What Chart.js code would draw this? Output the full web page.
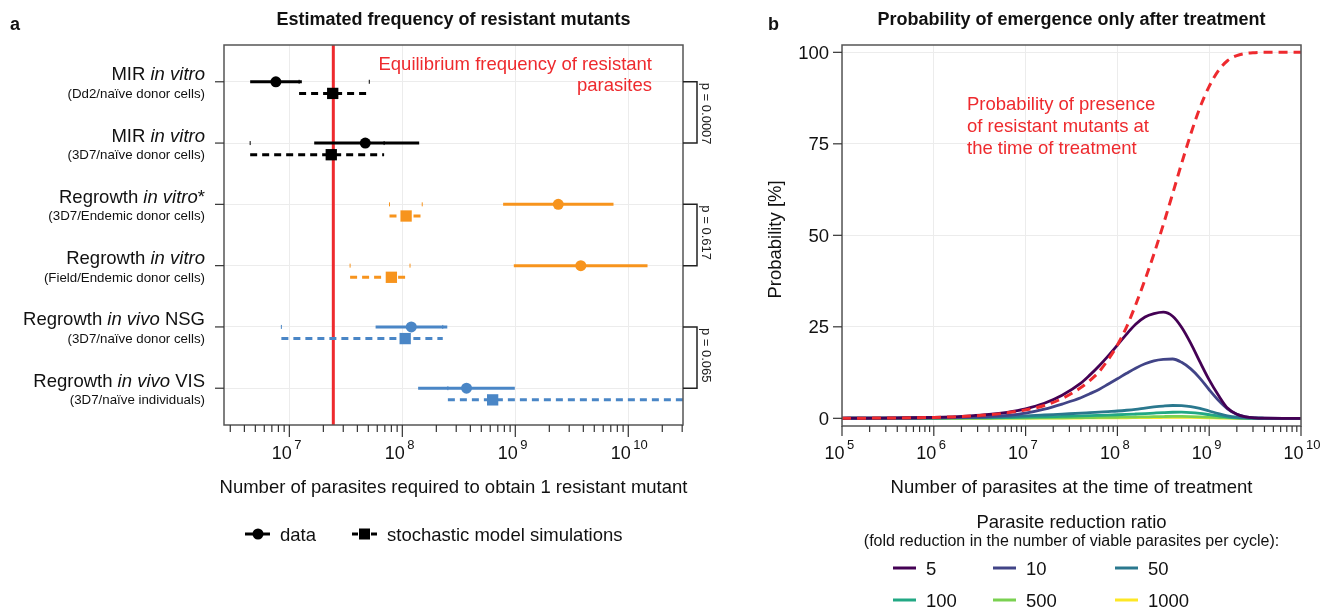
<!DOCTYPE html>
<html>
<head>
<meta charset="utf-8">
<script src="https://cdn.jsdelivr.net/npm/chart.js@4.4.1/dist/chart.umd.min.js"></script>
<style>
  html, body { margin: 0; padding: 0; background: #fff; }
  #wrap { position: relative; width: 1335px; height: 609px; overflow: hidden; }
  canvas { position: absolute; top: 0; }
  #chartA { left: 0; }
  #chartB { left: 760px; }
</style>
</head>
<body>
<div id="wrap">
  <canvas id="chartA" width="760" height="609"></canvas>
  <canvas id="chartB" width="575" height="609"></canvas>
</div>
<script>
const FONT = '"Liberation Sans", Arial, Helvetica, sans-serif';
const TXT = '18.5px ' + FONT;
const GRID = '#ececec';
const BOX = '#555555';
const INK = '#111111';
const RED = '#ee2a2e';

// ---- panel a : estimated frequency of resistant mutants ----
const rowTitles = [
  ['MIR ', 'in vitro', ''],
  ['MIR ', 'in vitro', ''],
  ['Regrowth ', 'in vitro', '*'],
  ['Regrowth ', 'in vitro', ''],
  ['Regrowth ', 'in vivo', ' NSG'],
  ['Regrowth ', 'in vivo', ' VIS']
];
const rowSubtitles = [
  '(Dd2/naïve donor cells)',
  '(3D7/naïve donor cells)',
  '(3D7/Endemic donor cells)',
  '(Field/Endemic donor cells)',
  '(3D7/naïve donor cells)',
  '(3D7/naïve individuals)'
];
const dataEstimate = [7.6e6, 4.7e7, 2.4e9, 3.8e9, 1.2e8, 3.7e8];
const dataLower    = [4.5e6, 1.66e7, 7.8e8, 9.7e8, 5.8e7, 1.38e8];
const dataUpper    = [1.29e7, 1.41e8, 7.4e9, 1.48e10, 2.5e8, 9.9e8];
const simEstimate  = [2.42e7, 2.35e7, 1.08e8, 8.0e7, 1.06e8, 6.3e8];
const simLower     = [1.22e7, 4.5e6, 7.7e7, 3.45e7, 8.5e6, 2.53e8];
const simUpper     = [5.1e7, 6.9e7, 1.5e8, 1.17e8, 2.28e8, 5e10];
const equilibriumFreq = 2.45e7;
const pValues = ['p = 0.0007', 'p = 0.617', 'p = 0.065'];
const pPairs = [[1, 2], [3, 4], [5, 6]];
const decadesA = [7, 8, 9, 10];

// colours per row (style only)
const rowColours = ['#000000', '#000000', '#f7941d', '#f7941d', '#4a86c6', '#4a86c6'];

// ---- panel b : probability of emergence only after treatment ----
const parasites = [1e5, 1.6e5, 2.5e5, 4e5, 6.3e5, 1e6, 1.6e6, 2.5e6, 4e6, 6.3e6,
  1e7, 1.6e7, 2.5e7, 4e7, 5e7, 6.3e7, 7.9e7,
  1e8, 1.26e8, 1.58e8, 2e8, 2.5e8, 3.16e8, 4e8, 5e8, 6.3e8, 7.9e8,
  1e9, 1.26e9, 1.58e9, 2e9, 2.5e9, 3.16e9, 4e9, 6.3e9, 1e10];
const presence = [0.02, 0.04, 0.06, 0.1, 0.15, 0.24, 0.38, 0.6, 0.95, 1.5,
  2.3, 3.5, 5.4, 8.4, 10.3, 12.7, 16.0,
  20.0, 25.0, 31.0, 37.9, 44.9, 52.9, 61.4, 69.6, 77.7, 84.8,
  90.7, 95.0, 97.7, 99.1, 99.7, 99.9, 100, 100, 100];
const emerge5 = [0.02, 0.04, 0.06, 0.1, 0.16, 0.26, 0.42, 0.66, 1.05, 1.65,
  2.6, 4.1, 6.3, 9.6, 11.8, 14.3, 17.0,
  20.0, 23.0, 25.7, 27.7, 28.6, 29.0, 27.9, 24.9, 20.5, 15.5,
  10.5, 6.3, 2.8, 1.1, 0.4, 0.12, 0.04, 0, 0];
const emerge10 = [0.01, 0.02, 0.03, 0.05, 0.08, 0.13, 0.2, 0.32, 0.5, 0.8,
  1.4, 2.5, 3.9, 5.6, 6.7, 7.9, 9.3,
  10.8, 12.3, 13.7, 14.9, 15.7, 16.1, 16.2, 15.3, 13.5, 11.0,
  7.8, 4.9, 2.6, 1.1, 0.4, 0.12, 0.03, 0, 0];
const emerge50 = [0.02, 0.03, 0.05, 0.07, 0.1, 0.13, 0.17, 0.23, 0.3, 0.45,
  0.65, 0.9, 1.15, 1.4, 1.55, 1.7, 1.85,
  2.0, 2.2, 2.45, 2.8, 3.1, 3.35, 3.5, 3.45, 3.2, 2.7,
  2.0, 1.3, 0.7, 0.3, 0.1, 0.03, 0.01, 0, 0];
const emerge100 = [0.01, 0.02, 0.03, 0.04, 0.05, 0.07, 0.09, 0.12, 0.16, 0.22,
  0.3, 0.4, 0.52, 0.65, 0.72, 0.8, 0.88,
  0.97, 1.07, 1.18, 1.3, 1.43, 1.56, 1.66, 1.68, 1.58, 1.35,
  1.0, 0.65, 0.35, 0.15, 0.05, 0.02, 0.01, 0, 0];
const emerge500 = [0, 0.01, 0.01, 0.01, 0.02, 0.02, 0.03, 0.04, 0.05, 0.07,
  0.09, 0.12, 0.15, 0.19, 0.21, 0.23, 0.26,
  0.29, 0.32, 0.36, 0.4, 0.44, 0.48, 0.51, 0.51, 0.48, 0.41,
  0.3, 0.19, 0.1, 0.04, 0.01, 0, 0, 0, 0];
const emerge1000 = [0, 0, 0, 0.01, 0.01, 0.01, 0.01, 0.02, 0.02, 0.03,
  0.04, 0.05, 0.07, 0.09, 0.1, 0.11, 0.12,
  0.14, 0.15, 0.17, 0.19, 0.21, 0.23, 0.25, 0.25, 0.23, 0.2,
  0.15, 0.09, 0.05, 0.02, 0.01, 0, 0, 0, 0];
const reductionRatios = ['5', '10', '50', '100', '500', '1000'];
const emergenceSeries = [emerge5, emerge10, emerge50, emerge100, emerge500, emerge1000];
const probTicks = [0, 25, 50, 75, 100];
const decadesB = [5, 6, 7, 8, 9, 10];

const viridis = ['#440154', '#414487', '#2a788e', '#22a884', '#7ad151', '#fde725'];

// ---------- helpers ----------
function isDecade(v) {
  const l = Math.log10(v);
  return Math.abs(l - Math.round(l)) < 1e-9;
}
function isNiceLogTick(v) {
  const m = v / Math.pow(10, Math.floor(Math.log10(v) + 1e-9));
  return Math.abs(m - Math.round(m)) < 1e-6;
}
function logTicks(scale) {
  const out = [];
  for (let e = Math.floor(Math.log10(scale.min)); e <= Math.ceil(Math.log10(scale.max)); e++) {
    for (let m = 1; m <= 9; m++) {
      const v = m * Math.pow(10, e);
      if (v >= scale.min * 0.9999 && v <= scale.max * 1.0001) out.push({ value: v });
    }
  }
  scale.ticks = out;
}
function seg(ctx, x1, y1, x2, y2) {
  ctx.beginPath(); ctx.moveTo(x1, y1); ctx.lineTo(x2, y2); ctx.stroke();
}
function drawPow(ctx, x, y, exp) {
  ctx.textAlign = 'left';
  ctx.textBaseline = 'alphabetic';
  ctx.font = '18px ' + FONT;
  ctx.fillText('10', x - 17.5, y);
  ctx.font = '13px ' + FONT;
  ctx.fillText(String(exp), x + 5, y - 10);
}
function drawRowTitle(ctx, parts, xRight, y) {
  const fonts = [TXT, 'italic ' + TXT, TXT];
  const widths = parts.map((p, i) => { ctx.font = fonts[i]; return ctx.measureText(p).width; });
  let x = xRight - widths.reduce((s, w) => s + w, 0);
  ctx.textAlign = 'left';
  parts.forEach((p, i) => { ctx.font = fonts[i]; ctx.fillText(p, x, y); x += widths[i]; });
}
function drawLogXAxis(ctx, chart, decades, majorLen, minorLen) {
  const a = chart.chartArea, xs = chart.scales.x;
  ctx.strokeStyle = '#333';
  ctx.lineWidth = 1.2;
  xs.ticks.forEach(t => {
    if (!isNiceLogTick(t.value)) return;
    const px = xs.getPixelForValue(t.value);
    seg(ctx, px, a.bottom, px, a.bottom + (isDecade(t.value) ? majorLen : minorLen));
  });
  ctx.fillStyle = INK;
  decades.forEach(e => drawPow(ctx, xs.getPixelForValue(Math.pow(10, e)), 459, e));
}

// ---------- panel a ----------
const panelA = {
  id: 'panelA',
  afterDatasetsDraw(chart) {
    const ctx = chart.ctx, a = chart.chartArea, ys = chart.scales.y;
    ctx.save();
    ctx.strokeStyle = BOX;
    ctx.lineWidth = 1.5;
    ctx.strokeRect(a.left, a.top, a.right - a.left, a.bottom - a.top);
    drawLogXAxis(ctx, chart, decadesA, 12, 7);

    ctx.fillStyle = INK;
    ctx.textAlign = 'center';
    ctx.font = TXT;
    ctx.fillText('Number of parasites required to obtain 1 resistant mutant', (a.left + a.right) / 2, 493);

    // category axis
    rowTitles.forEach((parts, i) => {
      const py = ys.getPixelForValue(i + 1);
      ctx.strokeStyle = '#333';
      ctx.lineWidth = 1.2;
      seg(ctx, a.left - 9, py, a.left, py);
      ctx.fillStyle = INK;
      drawRowTitle(ctx, parts, 205, py - 1.5);
      ctx.font = '13.3px ' + FONT;
      ctx.textAlign = 'right';
      ctx.fillText(rowSubtitles[i], 205, py + 16);
    });

    // equilibrium label
    ctx.fillStyle = RED;
    ctx.textAlign = 'right';
    ctx.font = TXT;
    ctx.fillText('Equilibrium frequency of resistant', 652, 70);
    ctx.fillText('parasites', 652, 91);

    // brackets with p values
    pPairs.forEach((pair, k) => {
      const y1 = ys.getPixelForValue(pair[0]);
      const y2 = ys.getPixelForValue(pair[1]);
      const xb = a.right + 14;
      ctx.strokeStyle = '#222';
      ctx.lineWidth = 1.5;
      ctx.beginPath();
      ctx.moveTo(a.right, y1); ctx.lineTo(xb, y1); ctx.lineTo(xb, y2); ctx.lineTo(a.right, y2);
      ctx.stroke();
      ctx.save();
      ctx.translate(xb + 9, y1 + 1);
      ctx.rotate(Math.PI / 2);
      ctx.fillStyle = '#222';
      ctx.font = '13px ' + FONT;
      ctx.textAlign = 'left';
      ctx.textBaseline = 'middle';
      ctx.fillText(pValues[k], 0, 0);
      ctx.restore();
    });

    // legend
    const ly = 534;
    ctx.strokeStyle = '#000';
    ctx.fillStyle = '#000';
    ctx.lineWidth = 3;
    seg(ctx, 245, ly, 270, ly);
    ctx.beginPath(); ctx.arc(258, ly, 5.5, 0, Math.PI * 2); ctx.fill();
    seg(ctx, 352, ly, 358, ly);
    seg(ctx, 371, ly, 377, ly);
    ctx.fillRect(359, ly - 5.5, 11, 11);
    ctx.font = TXT;
    ctx.textAlign = 'left';
    ctx.fillStyle = INK;
    ctx.fillText('data', 280, ly + 6.5);
    ctx.fillText('stochastic model simulations', 387, ly + 6.5);

    // titles
    ctx.textAlign = 'center';
    ctx.font = 'bold 18px ' + FONT;
    ctx.fillText('Estimated frequency of resistant mutants', (a.left + a.right) / 2, 25);
    ctx.textAlign = 'left';
    ctx.font = 'bold 18px ' + FONT;
    ctx.fillText('a', 10, 30);
    ctx.restore();
  }
};

const SIM_OFFSET = 0.19;
const datasetsA = [];
datasetsA.push({
  data: [{ x: equilibriumFreq, y: 0.4 }, { x: equilibriumFreq, y: 6.6 }],
  showLine: true, borderColor: RED, borderWidth: 3, pointRadius: 0, order: 20, clip: 0
});
rowTitles.forEach((_, i) => {
  const row = i + 1, col = rowColours[i];
  // faint end marks of the simulated range, on the data row
  datasetsA.push({
    data: [{ x: simLower[i], y: row }, { x: simUpper[i], y: row }],
    pointStyle: 'line', pointRotation: 90, pointRadius: 2,
    pointBorderColor: col, pointBorderWidth: 1, order: 15, clip: 0
  });
  datasetsA.push({
    data: [{ x: dataLower[i], y: row }, { x: dataUpper[i], y: row }],
    showLine: true, borderColor: col, borderWidth: 3, pointRadius: 0, order: 10, clip: 0
  });
  datasetsA.push({
    data: [{ x: simLower[i], y: row + SIM_OFFSET }, { x: simUpper[i], y: row + SIM_OFFSET }],
    showLine: true, borderColor: col, borderWidth: 3, borderDash: [7, 5], pointRadius: 0, order: 10, clip: 0
  });
  datasetsA.push({
    data: [{ x: dataEstimate[i], y: row }],
    pointStyle: 'circle', pointRadius: 5.5, backgroundColor: col, borderWidth: 0, order: 1
  });
  datasetsA.push({
    data: [{ x: simEstimate[i], y: row + SIM_OFFSET }],
    pointStyle: 'rect', pointRadius: 8, backgroundColor: col, borderWidth: 0, order: 1
  });
});

new Chart(document.getElementById('chartA'), {
  type: 'scatter',
  data: { datasets: datasetsA },
  options: {
    responsive: false,
    devicePixelRatio: 1,
    animation: false,
    events: [],
    layout: { padding: { left: 224, right: 77, top: 45, bottom: 184 } },
    plugins: { legend: { display: false }, tooltip: { enabled: false } },
    scales: {
      x: {
        type: 'logarithmic', min: 2.64e6, max: 3.05e10,
        afterBuildTicks: logTicks,
        ticks: { display: false },
        border: { display: false },
        grid: { drawTicks: false, color: c => (c.tick && isDecade(c.tick.value)) ? GRID : 'rgba(0,0,0,0)' }
      },
      y: {
        type: 'linear', min: 0.4, max: 6.6, reverse: true,
        afterBuildTicks: s => { s.ticks = rowTitles.map((_, i) => ({ value: i + 1 })); },
        ticks: { display: false },
        border: { display: false },
        grid: { drawTicks: false, color: GRID }
      }
    }
  },
  plugins: [panelA]
});

// ---------- panel b ----------
const panelB = {
  id: 'panelB',
  afterDatasetsDraw(chart) {
    const ctx = chart.ctx, a = chart.chartArea, ys = chart.scales.y;
    const cx = (a.left + a.right) / 2;
    ctx.save();
    ctx.strokeStyle = BOX;
    ctx.lineWidth = 1.5;
    ctx.strokeRect(a.left, a.top, a.right - a.left, a.bottom - a.top);
    drawLogXAxis(ctx, chart, decadesB, 10, 6);

    ctx.fillStyle = INK;
    ctx.font = TXT;
    ctx.textAlign = 'right';
    probTicks.forEach(v => {
      const py = ys.getPixelForValue(v);
      ctx.strokeStyle = '#333';
      ctx.lineWidth = 1.2;
      seg(ctx, a.left - 9, py, a.left, py);
      ctx.fillText(String(v), a.left - 13, py + 6.5);
    });

    ctx.textAlign = 'center';
    ctx.fillText('Number of parasites at the time of treatment', cx, 493);
    ctx.save();
    ctx.translate(16, (a.top + a.bottom) / 2 + 4);
    ctx.rotate(-Math.PI / 2);
    ctx.textBaseline = 'middle';
    ctx.fillText('Probability [%]', 0, 0);
    ctx.restore();

    // annotation
    ctx.fillStyle = RED;
    ctx.textAlign = 'left';
    ctx.fillText('Probability of presence', 207, 109.5);
    ctx.fillText('of resistant mutants at', 207, 131.5);
    ctx.fillText('the time of treatment', 207, 153.5);

    // legend
    ctx.fillStyle = INK;
    ctx.textAlign = 'center';
    ctx.fillText('Parasite reduction ratio', cx, 528);
    ctx.font = '16px ' + FONT;
    ctx.fillText('(fold reduction in the number of viable parasites per cycle):', cx, 546);
    const colX = [133, 233, 355];
    const rowY = [568, 600];
    ctx.font = TXT;
    ctx.textAlign = 'left';
    reductionRatios.forEach((lab, i) => {
      const x = colX[i % 3], y = rowY[Math.floor(i / 3)];
      ctx.strokeStyle = viridis[i];
      ctx.lineWidth = 3;
      seg(ctx, x, y, x + 23, y);
      ctx.fillText(lab, x + 33, y + 6.5);
    });

    ctx.textAlign = 'center';
    ctx.font = 'bold 18px ' + FONT;
    ctx.fillText('Probability of emergence only after treatment', cx, 25);
    ctx.textAlign = 'left';
    ctx.fillText('b', 8, 30);
    ctx.restore();
  }
};

const datasetsB = [{
  data: parasites.map((n, i) => ({ x: n, y: presence[i] })),
  showLine: true, borderColor: RED, borderWidth: 3, borderDash: [9, 6],
  pointRadius: 0, cubicInterpolationMode: 'monotone', order: 0
}];
emergenceSeries.forEach((series, k) => {
  datasetsB.push({
    data: parasites.map((n, i) => ({ x: n, y: series[i] })),
    showLine: true, borderColor: viridis[k], borderWidth: 2.8,
    pointRadius: 0, cubicInterpolationMode: 'monotone', order: k + 1
  });
});

new Chart(document.getElementById('chartB'), {
  type: 'scatter',
  data: { datasets: datasetsB },
  options: {
    responsive: false,
    devicePixelRatio: 1,
    animation: false,
    events: [],
    layout: { padding: { left: 82, right: 34, top: 45, bottom: 183 } },
    plugins: { legend: { display: false }, tooltip: { enabled: false } },
    scales: {
      x: {
        type: 'logarithmic', min: 1e5, max: 1e10,
        afterBuildTicks: logTicks,
        ticks: { display: false },
        border: { display: false },
        grid: { drawTicks: false, color: c => (c.tick && isDecade(c.tick.value)) ? GRID : 'rgba(0,0,0,0)' }
      },
      y: {
        type: 'linear', min: -2.1, max: 102,
        afterBuildTicks: s => { s.ticks = probTicks.map(v => ({ value: v })); },
        ticks: { display: false },
        border: { display: false },
        grid: { drawTicks: false, color: GRID }
      }
    }
  },
  plugins: [panelB]
});
</script>
</body>
</html>
